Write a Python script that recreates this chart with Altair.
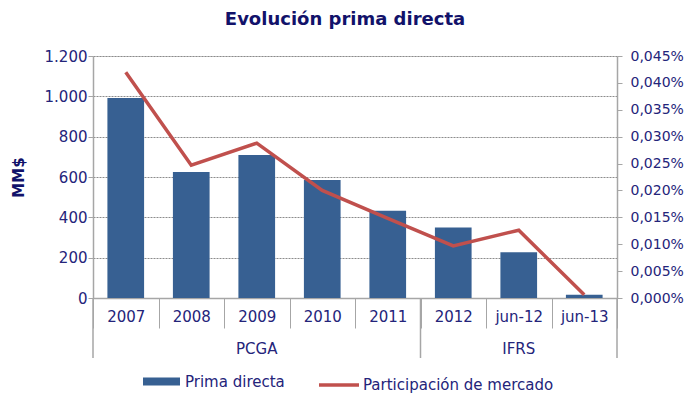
import altair as alt
import pandas as pd

# ---- data ----
categorias = ["2007", "2008", "2009", "2010", "2011", "2012", "jun-12", "jun-13"]
grupos = ["PCGA", "PCGA", "PCGA", "PCGA", "PCGA", "IFRS", "IFRS", "IFRS"]
prima_directa = [992, 625, 709, 585, 433, 350, 227, 16]            # MM$
participacion = [0.0420, 0.0247, 0.0288, 0.0200, 0.0148, 0.0097, 0.0126, 0.0006]  # %
serie_barras = "Prima directa"
serie_linea = "Participación de mercado"
ticks_izq = [0, 200, 400, 600, 800, 1000, 1200]
ticks_der = [0, 0.005, 0.01, 0.015, 0.02, 0.025, 0.03, 0.035, 0.04, 0.045]

FONT = "DejaVu Sans"
NAVY = "#24247A"
TITLE = "#12126A"
BAR = "#376092"
RED = "#C0504D"
GRAY = "#A6A6A6"

df = pd.DataFrame({
    "categoria": categorias,
    "grupo": grupos,
    "prima": prima_directa,
    "part": participacion,
    "s1": serie_barras,
    "s2": serie_linea,
})

# group labels: centred on middle category of each group; separators at group edges
orden_grupos = list(dict.fromkeys(grupos))
g_rows = []
for g in orden_grupos:
    cats = [c for c, gg in zip(categorias, grupos) if gg == g]
    g_rows.append({"grupo": g, "centro": cats[len(cats) // 2], "inicio": cats[0]})
gdf = pd.DataFrame(g_rows)
fin_df = pd.DataFrame({"categoria": [categorias[-1]]})

xscale = alt.Scale(domain=categorias, paddingInner=0, paddingOuter=0)

x_axis = alt.Axis(
    title=None, labelAngle=0, tickBand="extent", tickSize=30, tickColor=GRAY,
    tickWidth=1, domainColor=GRAY, domainWidth=1.5, labelFont=FONT,
    labelFontSize=15, labelColor=NAVY, labelPadding=-19, grid=False,
)

base = alt.Chart(df)

bars = base.mark_bar(width=alt.RelativeBandSize(0.56)).encode(
    x=alt.X("categoria:N", scale=xscale, axis=x_axis),
    y=alt.Y(
        "prima:Q",
        scale=alt.Scale(domain=[0, 1200]),
        axis=alt.Axis(
            title="MM$", titleFont=FONT, titleFontSize=15, titleFontWeight="bold",
            titleColor=TITLE, titlePadding=18,
            values=ticks_izq,
            labelExpr="replace(format(datum.value, ','), ',', '.')",
            labelFont=FONT, labelFontSize=15, labelColor=NAVY, labelPadding=1,
            tickSize=5, tickColor=GRAY, domainColor=GRAY, domainWidth=1.5,
            grid=True, gridColor="#8C8C8C", gridDash=[2, 1], gridWidth=1,
        ),
    ),
    fill=alt.Fill(
        "s1:N", scale=alt.Scale(domain=[serie_barras], range=[BAR]),
        legend=alt.Legend(
            title=None, orient="none", legendX=50, legendY=307,
            symbolType="M-1,-0.22H1V0.22H-1Z", symbolSize=1369, symbolStrokeWidth=0,
            labelFont=FONT, labelFontSize=15, labelColor=NAVY, labelOffset=5,
            labelLimit=300,
        ),
    ),
)

line = base.mark_line(strokeWidth=3.5).encode(
    x=alt.X("categoria:N", scale=xscale),
    y=alt.Y(
        "part:Q",
        scale=alt.Scale(domain=[0, 0.045]),
        axis=alt.Axis(
            orient="right", title=None, values=ticks_der,
            labelExpr="replace(format(datum.value, '.3f'), '.', ',') + '%'",
            labelFont=FONT, labelFontSize=14, labelColor=NAVY, labelPadding=8,
            tickSize=5, tickColor=GRAY, domainColor=GRAY, domainWidth=1.5, grid=False,
            labelLimit=200,
        ),
    ),
    stroke=alt.Stroke(
        "s2:N", scale=alt.Scale(domain=[serie_linea], range=[RED]),
        legend=alt.Legend(
            title=None, orient="none", legendX=224, legendY=307,
            symbolType="stroke", symbolSize=1600, symbolStrokeWidth=3.5,
            labelFont=FONT, labelFontSize=15, labelColor=NAVY, labelOffset=2,
            labelLimit=300,
        ),
    ),
)

sep_inicio = alt.Chart(gdf).mark_rule(color=GRAY, strokeWidth=1.5).encode(
    x=alt.X("inicio:N", scale=xscale, bandPosition=0),
    y=alt.value(242), y2=alt.value(302),
)
sep_fin = alt.Chart(fin_df).mark_rule(color=GRAY, strokeWidth=1.5).encode(
    x=alt.X("categoria:N", scale=xscale, bandPosition=1),
    y=alt.value(242), y2=alt.value(302),
)
etiquetas = alt.Chart(gdf).mark_text(
    font=FONT, fontSize=15, color=NAVY, baseline="middle"
).encode(
    x=alt.X("centro:N", scale=xscale),
    y=alt.value(293),
    text="grupo:N",
)

chart = (
    alt.layer(bars, line, sep_inicio, sep_fin, etiquetas)
    .resolve_scale(y="independent")
    .properties(
        width=524, height=242,
        title=alt.TitleParams(
            "Evolución prima directa", font=FONT, fontSize=18, fontWeight="bold",
            color=TITLE, anchor="middle", dx=-10, offset=20,
        ),
        autosize=alt.AutoSizeParams(type="none"),
        padding={"left": 85, "top": 48, "right": 70, "bottom": 100},
    )
    .configure_view(stroke=None)
    .configure(background="white")
)

chart.save("out.html", embed_options={"renderer": "svg", "actions": False})
